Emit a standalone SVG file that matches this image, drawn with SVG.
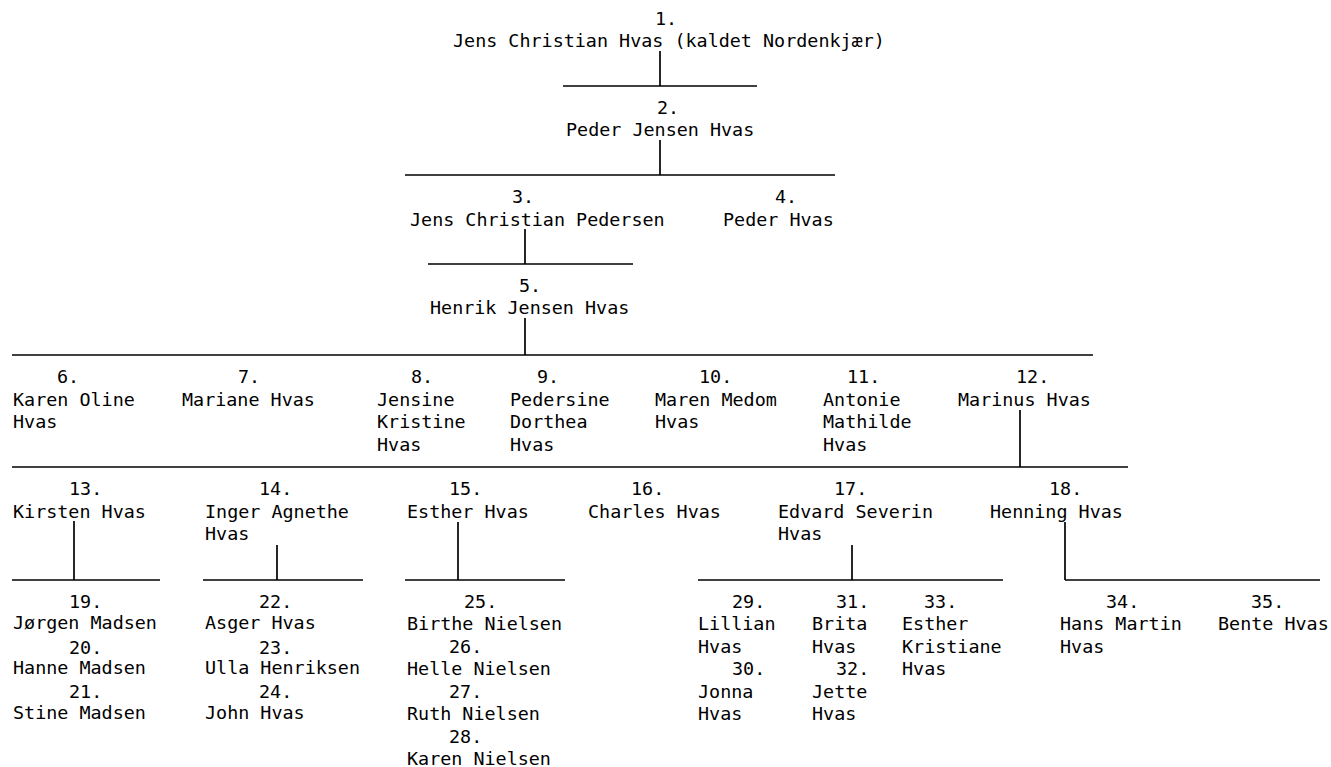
<svg xmlns="http://www.w3.org/2000/svg" width="1331" height="767" viewBox="0 0 1331 767">
<style>
text{font-family:"DejaVu Sans Mono","Liberation Mono",monospace;font-size:18.4px;fill:#000;white-space:pre}
.c line{stroke:#000;stroke-width:1.7;fill:none}
</style>
<rect width="1331" height="767" fill="#fff"/>
<g class="c" id="connectors">
<line x1="660" y1="51" x2="660" y2="86"/><line x1="563" y1="86" x2="757" y2="86"/>
<line x1="660" y1="140" x2="660" y2="175"/><line x1="405" y1="175" x2="835" y2="175"/>
<line x1="525" y1="229" x2="525" y2="264"/><line x1="428" y1="264" x2="633" y2="264"/>
<line x1="525" y1="318" x2="525" y2="355"/><line x1="12" y1="355" x2="1093" y2="355"/>
<line x1="1020" y1="410" x2="1020" y2="467"/><line x1="12" y1="467" x2="1128" y2="467"/>
<line x1="74" y1="521" x2="74" y2="580"/><line x1="12" y1="580" x2="160" y2="580"/>
<line x1="277" y1="545" x2="277" y2="580"/><line x1="203" y1="580" x2="363" y2="580"/>
<line x1="458" y1="522" x2="458" y2="580"/><line x1="405" y1="580" x2="565" y2="580"/>
<line x1="852" y1="545" x2="852" y2="580"/><line x1="698" y1="580" x2="1003" y2="580"/>
<line x1="1065" y1="522" x2="1065" y2="580"/><line x1="1065" y1="580" x2="1320" y2="580"/>
</g>
<g id="n1"><text x="655" y="25">1.</text><text x="453" y="47">Jens Christian Hvas (kaldet Nordenkjær)</text></g>
<g id="n2"><text x="657" y="114">2.</text><text x="566" y="136">Peder Jensen Hvas</text></g>
<g id="n3"><text x="512" y="203">3.</text><text x="410" y="226">Jens Christian Pedersen</text></g>
<g id="n4"><text x="775" y="203">4.</text><text x="723" y="226">Peder Hvas</text></g>
<g id="n5"><text x="519" y="292">5.</text><text x="430" y="314">Henrik Jensen Hvas</text></g>
<g id="n6"><text x="57" y="383">6.</text><text x="13" y="406">Karen Oline</text><text x="13" y="428">Hvas</text></g>
<g id="n7"><text x="238" y="383">7.</text><text x="182" y="406">Mariane Hvas</text></g>
<g id="n8"><text x="411" y="383">8.</text><text x="377" y="406">Jensine</text><text x="377" y="428">Kristine</text><text x="377" y="451">Hvas</text></g>
<g id="n9"><text x="537" y="383">9.</text><text x="510" y="406">Pedersine</text><text x="510" y="428">Dorthea</text><text x="510" y="451">Hvas</text></g>
<g id="n10"><text x="699" y="383">10.</text><text x="655" y="406">Maren Medom</text><text x="655" y="428">Hvas</text></g>
<g id="n11"><text x="847" y="383">11.</text><text x="823" y="406">Antonie</text><text x="823" y="428">Mathilde</text><text x="823" y="451">Hvas</text></g>
<g id="n12"><text x="1016" y="383">12.</text><text x="958" y="406">Marinus Hvas</text></g>
<g id="n13"><text x="69" y="495">13.</text><text x="13" y="518">Kirsten Hvas</text></g>
<g id="n14"><text x="259" y="495">14.</text><text x="205" y="518">Inger Agnethe</text><text x="205" y="540">Hvas</text></g>
<g id="n15"><text x="449" y="495">15.</text><text x="407" y="518">Esther Hvas</text></g>
<g id="n16"><text x="631" y="495">16.</text><text x="588" y="518">Charles Hvas</text></g>
<g id="n17"><text x="834" y="495">17.</text><text x="778" y="518">Edvard Severin</text><text x="778" y="540">Hvas</text></g>
<g id="n18"><text x="1049" y="495">18.</text><text x="990" y="518">Henning Hvas</text></g>
<g id="n19"><text x="69" y="608">19.</text><text x="13" y="629">Jørgen Madsen</text></g>
<g id="n20"><text x="69" y="654">20.</text><text x="13" y="674">Hanne Madsen</text></g>
<g id="n21"><text x="69" y="698">21.</text><text x="13" y="719">Stine Madsen</text></g>
<g id="n22"><text x="259" y="608">22.</text><text x="205" y="629">Asger Hvas</text></g>
<g id="n23"><text x="259" y="654">23.</text><text x="205" y="674">Ulla Henriksen</text></g>
<g id="n24"><text x="259" y="698">24.</text><text x="205" y="719">John Hvas</text></g>
<g id="n25"><text x="464" y="608">25.</text><text x="407" y="630">Birthe Nielsen</text></g>
<g id="n26"><text x="449" y="653">26.</text><text x="407" y="675">Helle Nielsen</text></g>
<g id="n27"><text x="449" y="698">27.</text><text x="407" y="720">Ruth Nielsen</text></g>
<g id="n28"><text x="449" y="743">28.</text><text x="407" y="765">Karen Nielsen</text></g>
<g id="n29"><text x="732" y="608">29.</text><text x="698" y="630">Lillian</text><text x="698" y="653">Hvas</text></g>
<g id="n30"><text x="732" y="675">30.</text><text x="698" y="698">Jonna</text><text x="698" y="720">Hvas</text></g>
<g id="n31"><text x="836" y="608">31.</text><text x="812" y="630">Brita</text><text x="812" y="653">Hvas</text></g>
<g id="n32"><text x="836" y="675">32.</text><text x="812" y="698">Jette</text><text x="812" y="720">Hvas</text></g>
<g id="n33"><text x="924" y="608">33.</text><text x="902" y="630">Esther</text><text x="902" y="653">Kristiane</text><text x="902" y="675">Hvas</text></g>
<g id="n34"><text x="1106" y="608">34.</text><text x="1060" y="630">Hans Martin</text><text x="1060" y="653">Hvas</text></g>
<g id="n35"><text x="1251" y="608">35.</text><text x="1218" y="630">Bente Hvas</text></g>
</svg>
